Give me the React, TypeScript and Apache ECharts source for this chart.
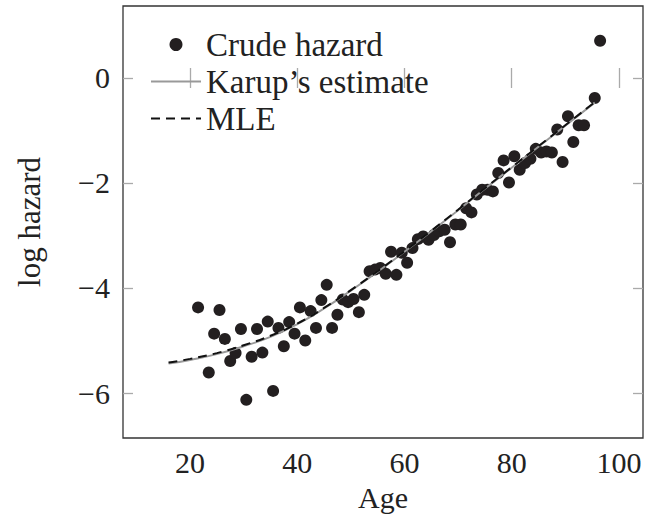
import React, { useEffect, useRef } from "react";
import * as echarts from "echarts";

const ages = [
  21.5, 23.5, 24.5, 25.5, 26.5, 27.5, 28.5, 29.5, 30.5, 31.5, 32.5, 33.5, 34.5, 35.5, 36.5,
  37.5, 38.5, 39.5, 40.5, 41.5, 42.5, 43.5, 44.5, 45.5, 46.5, 47.5, 48.5, 49.5, 50.5, 51.5,
  52.5, 53.5, 54.5, 55.5, 56.5, 57.5, 58.5, 59.5, 60.5, 61.5, 62.5, 63.5, 64.5, 65.5, 66.5,
  67.5, 68.5, 69.5, 70.5, 71.5, 72.5, 73.5, 74.5, 75.5, 76.5, 77.5, 78.5, 79.5, 80.5, 81.5,
  82.5, 83.5, 84.5, 85.5, 86.5, 87.5, 88.5, 89.5, 90.5, 91.5, 92.5, 93.5, 95.5, 96.5,
];
const crudeHazard = [
  -4.37, -5.61, -4.87, -4.42, -4.97, -5.39, -5.24, -4.78, -6.13, -5.31, -4.78, -5.23, -4.64, -5.96, -4.76,
  -5.11, -4.65, -4.87, -4.37, -5.0, -4.44, -4.76, -4.23, -3.94, -4.76, -4.51, -4.22, -4.27, -4.21, -4.46,
  -4.13, -3.68, -3.65, -3.62, -3.73, -3.31, -3.75, -3.33, -3.52, -3.24, -3.07, -3.02, -3.08, -2.99, -2.92,
  -2.89, -3.13, -2.79, -2.79, -2.48, -2.56, -2.22, -2.13, -2.13, -2.16, -1.81, -1.57, -1.99, -1.49, -1.75,
  -1.62, -1.54, -1.35, -1.42, -1.4, -1.42, -0.98, -1.6, -0.73, -1.22, -0.9, -0.9, -0.38, 0.71,
];

const curveAges = [16, 20, 25, 30, 35, 40, 45, 50, 55, 60, 65, 70, 75, 80, 85, 90, 95.5];
const karupEstimate = [
  -5.44, -5.37, -5.26, -5.11, -4.93, -4.69, -4.39, -4.05, -3.69, -3.31, -2.92, -2.52, -2.11, -1.71, -1.31, -0.91, -0.47,
];
const mleEstimate = [
  -5.42, -5.35, -5.24, -5.09, -4.91, -4.68, -4.38, -4.04, -3.68, -3.30, -2.91, -2.51, -2.10, -1.70, -1.30, -0.90, -0.46,
];

const xTicks = [20, 40, 60, 80, 100];
const yTicks = [-6, -4, -2, 0];

export default function App() {
  const ref = useRef<HTMLDivElement>(null);
  useEffect(() => {
    const chart = echarts.init(ref.current!, null, { renderer: "svg" });
    const font = "Liberation Serif";
    const fmt = (v: number) => String(v).replace("-", "\u2212");
    const X = { min: 7.5, max: 104.5 };
    const Y = { min: -6.857, max: 1.371 };
    const tickStyle = { color: "#aaa", width: 1.3 };
    const labelStyle = { fontFamily: font, fontSize: 30, color: "#222" };
    chart.setOption({
      animation: false,
      textStyle: { fontFamily: font },
      grid: {
        left: 123,
        top: 6,
        width: 520,
        height: 432,
        show: true,
        borderColor: "#333",
        borderWidth: 1.3,
        containLabel: false,
      },
      legend: {
        left: 145,
        top: 23,
        orient: "vertical",
        itemWidth: 50,
        itemHeight: 13,
        itemGap: 4,
        textStyle: { fontFamily: font, fontSize: 33, color: "#222", lineHeight: 32 },
        data: [
          { name: "Crude hazard", icon: "circle" },
          { name: "Karup\u2019s estimate", itemStyle: { opacity: 0 } },
          { name: "MLE", itemStyle: { opacity: 0 } },
        ],
      },
      xAxis: [
        {
          type: "value",
          ...X,
          position: "bottom",
          axisLine: { show: false },
          splitLine: { show: false },
          axisTick: { show: true, inside: true, length: 10, lineStyle: tickStyle, customValues: xTicks },
          axisLabel: { ...labelStyle, customValues: xTicks, formatter: fmt, margin: 9 },
          name: "Age",
          nameLocation: "middle",
          nameGap: 44,
          nameTextStyle: { fontFamily: font, fontSize: 30, color: "#222" },
        },
        {
          type: "value",
          ...X,
          position: "top",
          axisLine: { show: false },
          splitLine: { show: false },
          axisTick: { show: true, inside: true, length: 10, lineStyle: tickStyle, customValues: xTicks },
          axisLabel: { show: false },
        },
      ],
      yAxis: [
        {
          type: "value",
          ...Y,
          position: "left",
          axisLine: { show: false },
          splitLine: { show: false },
          axisTick: { show: true, inside: true, length: 10, lineStyle: tickStyle, customValues: yTicks },
          axisLabel: { ...labelStyle, customValues: yTicks, formatter: fmt, margin: 13 },
          name: "log hazard",
          nameLocation: "middle",
          nameGap: 78,
          nameRotate: 90,
          nameTextStyle: { fontFamily: font, fontSize: 31, color: "#222" },
        },
        {
          type: "value",
          ...Y,
          position: "right",
          axisLine: { show: false },
          splitLine: { show: false },
          axisTick: { show: true, inside: true, length: 10, lineStyle: tickStyle, customValues: yTicks },
          axisLabel: { show: false },
        },
      ],
      series: [
        {
          name: "Crude hazard",
          type: "scatter",
          data: ages.map((a, i) => [a, crudeHazard[i]]),
          symbol: "circle",
          symbolSize: 12,
          itemStyle: { color: "#231f20", opacity: 1 },
          z: 2,
        },
        {
          name: "Karup\u2019s estimate",
          type: "line",
          data: curveAges.map((a, i) => [a, karupEstimate[i]]),
          symbol: "none",
          smooth: true,
          lineStyle: { color: "#999", width: 2 },
          itemStyle: { color: "#999" },
          z: 3,
        },
        {
          name: "MLE",
          type: "line",
          data: curveAges.map((a, i) => [a, mleEstimate[i]]),
          symbol: "none",
          smooth: true,
          lineStyle: { color: "#111", width: 2, type: [9, 6] },
          itemStyle: { color: "#111" },
          z: 4,
        },
      ],
    });
    return () => chart.dispose();
  }, []);
  return (
    <div
      ref={ref}
      style={{ position: "absolute", left: 0, top: 0, width: 646, height: 517 }}
    />
  );
}
